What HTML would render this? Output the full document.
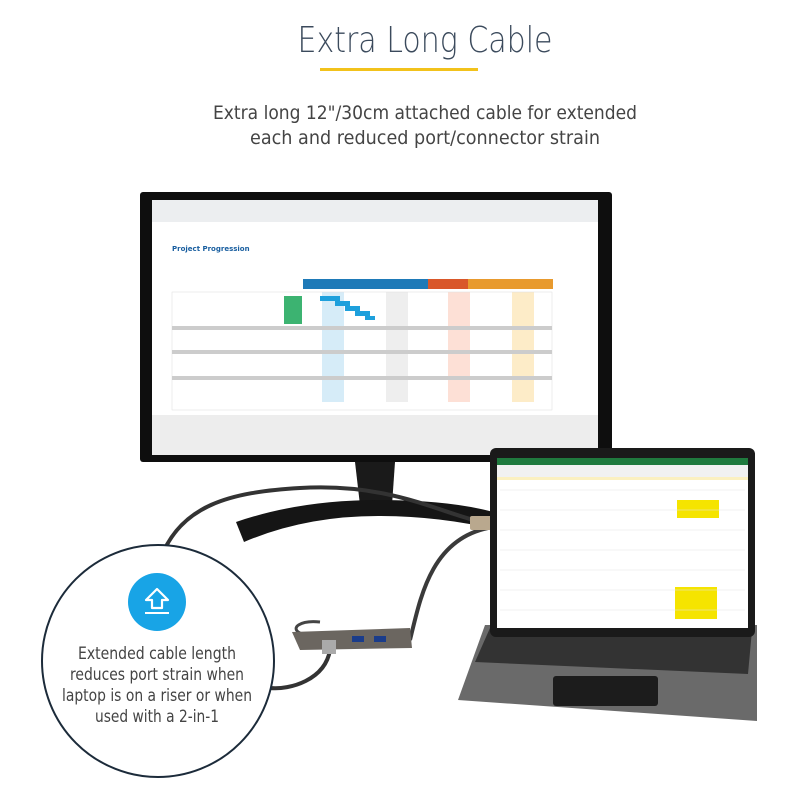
<!DOCTYPE html>
<html><head><style>
body{margin:0;width:800px;height:800px;background:#fff;overflow:hidden;font-family:"DejaVu Sans","Liberation Sans",sans-serif;}
svg{position:absolute;left:0;top:0}
</style></head><body>
<svg width="800" height="800" viewBox="0 0 800 800" xmlns="http://www.w3.org/2000/svg">
<text x="425" y="52" text-anchor="middle" font-size="36" fill="#3b4a5c" font-weight="300" font-family="DejaVu Sans, Liberation Sans, sans-serif" textLength="255" lengthAdjust="spacingAndGlyphs">Extra Long Cable</text>
<rect x="320" y="68" width="158" height="3" fill="#f2c21b"/>
<text x="425" y="119" text-anchor="middle" font-size="19" fill="#444" textLength="424" lengthAdjust="spacingAndGlyphs">Extra long 12"/30cm attached cable for extended</text>
<text x="425" y="144" text-anchor="middle" font-size="19" fill="#444" textLength="350" lengthAdjust="spacingAndGlyphs">each and reduced port/connector strain</text>

<!-- monitor stand -->
<path d="M355 462 L395 462 L392 505 L360 505 Z" fill="#1a1a1a"/>
<path d="M236 522 Q300 500 378 500 Q455 500 500 514 L498 530 Q440 516 378 516 Q305 516 244 542 Z" fill="#151515"/>
<!-- cables -->
<path d="M495 524 C450 520 400 482 300 488 C230 492 180 505 160 560" stroke="#333" stroke-width="4" fill="none"/>
<path d="M488 528 C430 540 420 600 410 640" stroke="#3a3a3a" stroke-width="4" fill="none"/>
<path d="M300 633 C290 628 300 620 320 622" stroke="#444" stroke-width="3" fill="none"/>
<path d="M330 650 C325 680 290 690 270 688" stroke="#333" stroke-width="4" fill="none"/>
<rect x="470" y="516" width="22" height="14" rx="2" fill="#b9a88e"/>
<!-- monitor -->
<rect x="140" y="192" width="472" height="270" rx="3" fill="#0e0e0e"/>
<rect x="152" y="200" width="446" height="255" fill="#f4f4f4"/>
<rect x="152" y="200" width="446" height="22" fill="#eceef0"/>
<rect x="152" y="222" width="446" height="193" fill="#fff"/>
<rect x="152" y="415" width="446" height="40" fill="#ededed"/>
<text x="172" y="251" font-size="7" fill="#1a5fa0" font-weight="bold">Project Progression</text>
<rect x="303" y="279" width="250" height="10" fill="#1e7ab8"/>
<rect x="428" y="279" width="40" height="10" fill="#d9572a"/>
<rect x="468" y="279" width="85" height="10" fill="#e89a2e"/>
<rect x="322" y="292" width="22" height="110" fill="#d6ecf8"/>
<rect x="386" y="292" width="22" height="110" fill="#eee"/>
<rect x="448" y="292" width="22" height="110" fill="#fde0d6"/>
<rect x="512" y="292" width="22" height="110" fill="#fdecc8"/>
<rect x="172" y="292" width="380" height="118" fill="none" stroke="#ddd" stroke-width="0.5"/>
<rect x="172" y="326" width="380" height="4" fill="#ccc"/>
<rect x="172" y="350" width="380" height="4" fill="#ccc"/>
<rect x="172" y="376" width="380" height="4" fill="#ccc"/>
<path d="M320 296h20v5h10v5h10v5h10v5h5v4h-10v-4h-10v-5h-10v-5h-10v-5h-15z" fill="#1ea0dc"/>
<rect x="284" y="296" width="18" height="28" fill="#3cb371"/>
<!-- laptop keyboard -->
<path d="M485 625 L757 625 L757 721 L458 700 Z" fill="#6a6a6a"/>
<path d="M490 628 L752 630 L748 674 L475 662 Z" fill="#333"/>
<rect x="553" y="676" width="105" height="30" rx="3" fill="#1c1c1c"/>
<!-- tablet -->
<rect x="490" y="448" width="265" height="189" rx="6" fill="#1a1a1a"/>
<rect x="497" y="458" width="251" height="170" fill="#fff"/>
<rect x="497" y="458" width="251" height="7" fill="#1f7a3e"/>
<rect x="497" y="465" width="251" height="12" fill="#f1f1f1"/>
<rect x="497" y="477" width="251" height="3" fill="#fbf0c0"/>
<rect x="677" y="500" width="42" height="18" fill="#f5e400"/>
<rect x="675" y="587" width="42" height="32" fill="#f5e400"/>
<g stroke="#e5e5e5" stroke-width="0.6">
<line x1="500" y1="490" x2="745" y2="490"/><line x1="500" y1="510" x2="745" y2="510"/><line x1="500" y1="530" x2="745" y2="530"/><line x1="500" y1="550" x2="745" y2="550"/><line x1="500" y1="570" x2="745" y2="570"/><line x1="500" y1="590" x2="745" y2="590"/><line x1="500" y1="610" x2="745" y2="610"/>
</g>
<!-- hub -->
<path d="M292 632 L410 628 L412 648 L300 650 Z" fill="#6b6660"/>
<rect x="352" y="636" width="12" height="6" fill="#1a3c8a"/>
<rect x="374" y="636" width="12" height="6" fill="#1a3c8a"/>
<rect x="322" y="640" width="14" height="14" fill="#aaa"/>
<!-- callout circle -->
<circle cx="158" cy="661" r="116" fill="#fff" stroke="#1c2b3a" stroke-width="2"/>
<circle cx="157" cy="602" r="29" fill="#18a4e6"/>
<path d="M157 589 L168 600 L162 600 L162 608 L152 608 L152 600 L146 600 Z" fill="none" stroke="#fff" stroke-width="2.2" stroke-linejoin="round"/>
<rect x="145" y="612" width="24" height="2" fill="#fff"/>
<g font-size="17" fill="#444" text-anchor="middle">
<text x="157" y="659" textLength="158" lengthAdjust="spacingAndGlyphs">Extended cable length</text>
<text x="157" y="680" textLength="174" lengthAdjust="spacingAndGlyphs">reduces port strain when</text>
<text x="157" y="701" textLength="190" lengthAdjust="spacingAndGlyphs">laptop is on a riser or when</text>
<text x="157" y="722" textLength="124" lengthAdjust="spacingAndGlyphs">used with a 2-in-1</text>
</g>
</svg>
</body></html>
